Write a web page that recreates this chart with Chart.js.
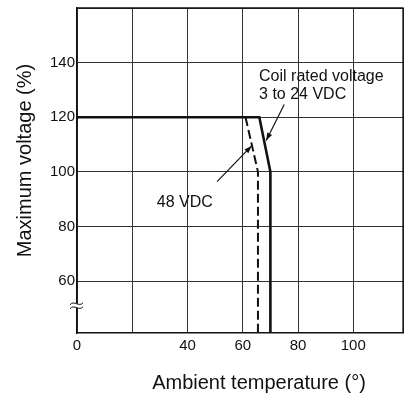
<!DOCTYPE html>
<html>
<head>
<meta charset="utf-8">
<script src="https://cdn.jsdelivr.net/npm/chart.js@4"></script>
<style>
  html, body { margin: 0; padding: 0; background: #fff; }
  canvas { display: block; }
</style>
</head>
<body>
<canvas id="chart" width="404" height="397"></canvas>
<script>
// axis ticks
const tempTicks = [0, 20, 40, 60, 80, 100];
const tempLabels = [0, 40, 60, 80, 100];
const voltTicks = [60, 80, 100, 120, 140, 160];
const voltLabels = [60, 80, 100, 120, 140];

// curves (ambient temperature °, maximum voltage %)
const coilTemp = [0, 66, 70, 70];
const coilVolt = [120, 120, 100, 41];
const vdc48Temp = [61, 65.5, 65.5];
const vdc48Volt = [120, 100, 41];

const xTitle = 'Ambient temperature (°)';
const yTitle = 'Maximum voltage (%)';

// callouts, in data units
const notes = [
  { text: 'Coil rated voltage', x: 65.9, y: 133.2 },
  { text: '3 to 24 VDC', x: 65.9, y: 126.8 },
  { text: '48 VDC', x: 28.9, y: 87 }
];
const arrows = [
  { from: [75, 124.7], to: [68.5, 111.5] },
  { from: [50.7, 96.4], to: [63.2, 109.5] }
];

const FONT = '"Liberation Sans", Arial, sans-serif';
const INK = '#111';

const toPoints = (xs, ys) => xs.map((x, i) => ({ x: x, y: ys[i] }));

const decorations = {
  id: 'decorations',
  afterDraw(chart) {
    const { ctx, chartArea: area, scales: { x, y } } = chart;
    ctx.save();
    ctx.fillStyle = INK;
    ctx.strokeStyle = INK;

    // frame top and right
    ctx.lineWidth = 1.3;
    ctx.beginPath();
    ctx.moveTo(area.left, area.top);
    ctx.lineTo(area.right, area.top);
    ctx.lineTo(area.right, area.bottom);
    ctx.stroke();

    // axis titles
    ctx.font = '20px ' + FONT;
    ctx.textAlign = 'center';
    ctx.textBaseline = 'middle';
    ctx.fillText(xTitle, (area.left + area.right) / 2 + 19, area.bottom + 50);
    ctx.save();
    ctx.translate(25, (area.top + area.bottom) / 2 - 10);
    ctx.rotate(-Math.PI / 2);
    ctx.fillText(yTitle, 0, 0);
    ctx.restore();

    // callout text
    ctx.font = '16px ' + FONT;
    ctx.textAlign = 'left';
    ctx.textBaseline = 'alphabetic';
    notes.forEach(n => ctx.fillText(n.text, x.getPixelForValue(n.x), y.getPixelForValue(n.y)));

    // arrows
    ctx.lineWidth = 1.2;
    arrows.forEach(a => {
      const x0 = x.getPixelForValue(a.from[0]), y0 = y.getPixelForValue(a.from[1]);
      const x1 = x.getPixelForValue(a.to[0]), y1 = y.getPixelForValue(a.to[1]);
      const ang = Math.atan2(y1 - y0, x1 - x0);
      ctx.beginPath();
      ctx.moveTo(x0, y0);
      ctx.lineTo(x1, y1);
      ctx.stroke();
      ctx.beginPath();
      ctx.moveTo(x1, y1);
      ctx.lineTo(x1 - 8 * Math.cos(ang - 0.35), y1 - 8 * Math.sin(ang - 0.35));
      ctx.lineTo(x1 - 8 * Math.cos(ang + 0.35), y1 - 8 * Math.sin(ang + 0.35));
      ctx.closePath();
      ctx.fill();
    });

    // axis break mark
    const bx = area.left, by = y.getPixelForValue(51);
    ctx.fillStyle = '#fff';
    ctx.fillRect(bx - 2, by - 2, 4, 4);
    ctx.lineWidth = 1;
    [-2, 2].forEach(d => {
      ctx.beginPath();
      ctx.moveTo(bx - 7, by + d + 1);
      ctx.bezierCurveTo(bx - 3, by + d - 4, bx + 2, by + d + 4, bx + 6, by + d - 1);
      ctx.stroke();
    });
    ctx.restore();
  }
};

new Chart(document.getElementById('chart'), {
  type: 'scatter',
  data: {
    datasets: [
      {
        label: 'Coil rated voltage 3 to 24 VDC',
        data: toPoints(coilTemp, coilVolt),
        showLine: true,
        borderColor: INK,
        borderWidth: 2.6,
        pointRadius: 0,
        fill: false
      },
      {
        label: '48 VDC',
        data: toPoints(vdc48Temp, vdc48Volt),
        showLine: true,
        borderColor: INK,
        borderWidth: 2,
        borderDash: [9, 4],
        pointRadius: 0,
        fill: false
      }
    ]
  },
  options: {
    responsive: false,
    animation: false,
    layout: { padding: { top: 8, right: 1, left: 0, bottom: 0 } },
    plugins: { legend: { display: false }, tooltip: { enabled: false } },
    scales: {
      x: {
        type: 'linear',
        min: 0,
        max: 118,
        afterBuildTicks: (axis) => {
          axis.ticks = tempTicks.concat([118]).map(v => ({ value: v }));
        },
        afterFit: (axis) => {
          axis.height = 64;
          axis.paddingLeft = 0;
          axis.paddingRight = 0;
        },
        ticks: {
          autoSkip: false,
          maxRotation: 0,
          padding: 4,
          color: INK,
          font: { family: FONT, size: 15 },
          callback: (v) => tempLabels.includes(v) ? String(v) : ''
        },
        grid: { color: '#333', lineWidth: 1, drawTicks: false },
        border: { display: true, color: INK, width: 1.5 }
      },
      y: {
        type: 'linear',
        min: 41,
        max: 160,
        afterBuildTicks: (axis) => {
          axis.ticks = voltTicks.map(v => ({ value: v }));
        },
        afterFit: (axis) => {
          axis.width = 77;
          axis.paddingTop = 0;
          axis.paddingBottom = 0;
        },
        ticks: {
          autoSkip: false,
          padding: 2,
          color: INK,
          font: { family: FONT, size: 15 },
          callback: (v) => voltLabels.includes(v) ? String(v) : ''
        },
        grid: { color: '#333', lineWidth: 1, drawTicks: false },
        border: { display: true, color: INK, width: 1.5 }
      }
    }
  },
  plugins: [decorations]
});
</script>
</body>
</html>
